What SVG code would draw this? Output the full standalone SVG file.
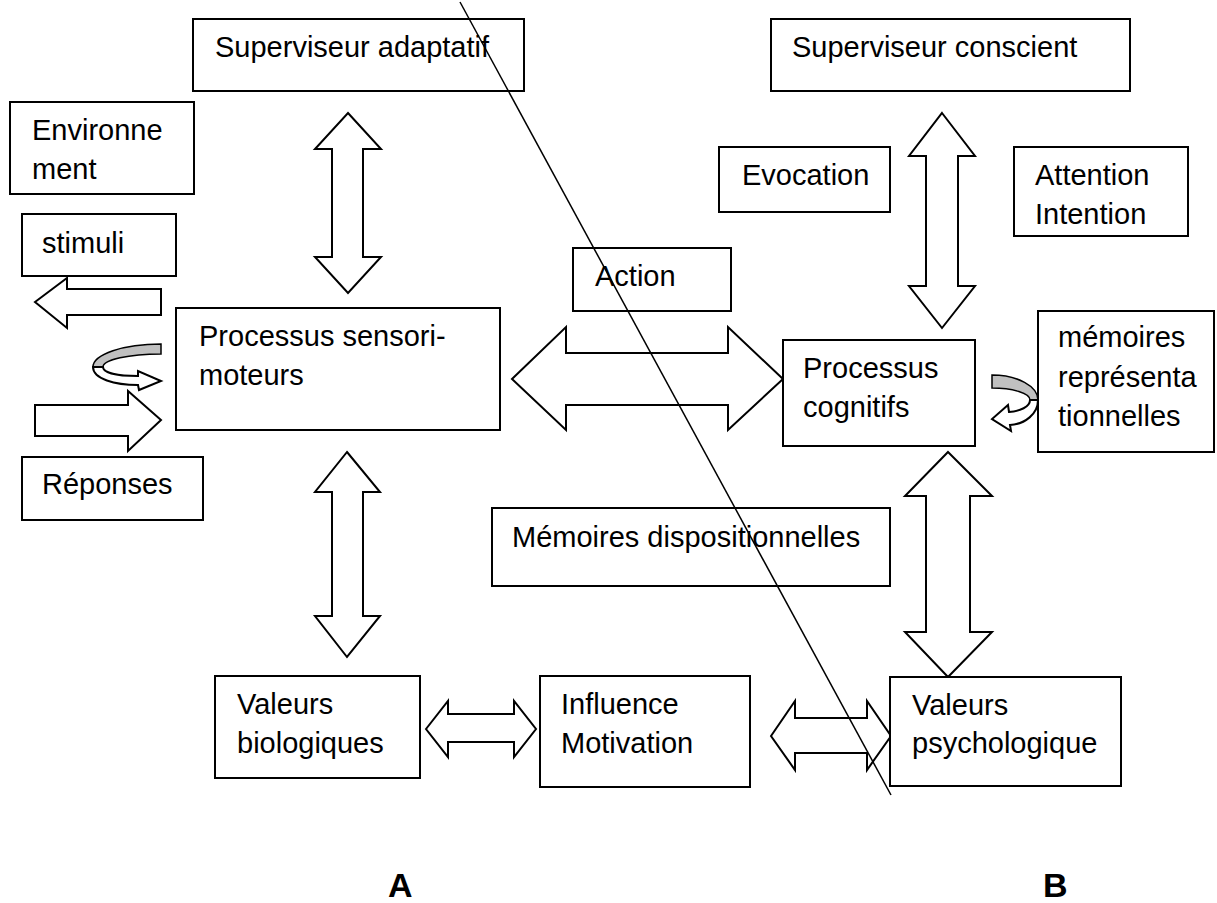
<svg xmlns="http://www.w3.org/2000/svg" width="1217" height="903" viewBox="0 0 1217 903">
<style>
.box{fill:#fff;stroke:#000;stroke-width:2}
.t{font-family:"Liberation Sans",Arial,sans-serif;font-size:29px;fill:#000}
.arr{fill:#fff;stroke:#000;stroke-width:2;stroke-linejoin:miter}
.gray{fill:#c0c0c0;stroke:#000;stroke-width:1.5}
.lbl{font-family:"Liberation Sans",Arial,sans-serif;font-size:34px;font-weight:bold;fill:#000}
</style>
<rect width="1217" height="903" fill="#fff"/>
<g id="connectors">
<polygon class="arr" points="348,113 381,149 363,149 363,257 381,257 348,293 315,257 332,257 332,149 315,149"/>
<polygon class="arr" points="347,452 380,492 363,492 363,616 380,616 347,657 315,616 332,616 332,492 315,492"/>
<polygon class="arr" points="942,113 975,156 958,156 958,286 975,286 942,328 909,286 926,286 926,156 909,156"/>
<polygon class="arr" points="948,452 992,496 970,496 970,632 992,632 948,677 905,632 926,632 926,496 905,496"/>
<polygon class="arr" points="512,379 566,327 566,353 728,353 728,327 783,379 728,430 728,405 566,405 566,430"/>
<polygon class="arr" points="426,729 448,701 448,714 514,714 514,701 536,729 514,757 514,742 448,742 448,757"/>
<polygon class="arr" points="771,736 795,701 795,718 867,718 867,701 891,736 867,770 867,753 795,753 795,770"/>
<polygon class="arr" points="35,302 67,278 67,289 161,289 161,315 67,315 67,328"/>
<polygon class="arr" points="35,405 128,405 128,391 161,420 128,451 128,436 35,436"/>
<path class="gray" d="M161,344 A68,23 0 0 0 93,367 L103,367 A58,13 0 0 1 161,354 Z"/>
<path class="arr" stroke-width="1.5" d="M93,367 C93,379 115,385 138,385 L139,390 L161,381 L138,371 L138,376 C118,376 103,373 103,367 Z"/>
<path class="gray" d="M992,375 A46,25 0 0 1 1038,400 L1030,400 A38,12 0 0 0 992,388 Z"/>
<path class="arr" stroke-width="1.5" d="M1038,400 C1038,414 1025,424 1010,425 L1011,431 L992,419 L1008,405 L1009,412 C1020,411 1030,407 1030,400 Z"/>
</g>
<g id="sup-adaptatif"><rect class="box" x="193" y="19" width="331" height="72"/><text class="t" x="215" y="57">Superviseur adaptatif</text></g>
<g id="sup-conscient"><rect class="box" x="771" y="19" width="359" height="72"/><text class="t" x="792" y="57">Superviseur conscient</text></g>
<g id="environnement"><rect class="box" x="10" y="102" width="184" height="92"/><text class="t" x="32" y="140">Environne</text><text class="t" x="32" y="179">ment</text></g>
<g id="evocation"><rect class="box" x="719" y="147" width="171" height="65"/><text class="t" x="742" y="185">Evocation</text></g>
<g id="attention"><rect class="box" x="1014" y="147" width="174" height="89"/><text class="t" x="1035" y="185">Attention</text><text class="t" x="1035" y="224">Intention</text></g>
<g id="stimuli"><rect class="box" x="22" y="214" width="154" height="62"/><text class="t" x="42" y="253">stimuli</text></g>
<g id="action"><rect class="box" x="573" y="248" width="158" height="63"/><text class="t" x="595" y="286">Action</text></g>
<g id="proc-sensori"><rect class="box" x="176" y="308" width="324" height="122"/><text class="t" x="199" y="346">Processus sensori-</text><text class="t" x="199" y="385">moteurs</text></g>
<g id="proc-cognitifs"><rect class="box" x="783" y="340" width="192" height="106"/><text class="t" x="803" y="378">Processus</text><text class="t" x="803" y="417">cognitifs</text></g>
<g id="memoires-rep"><rect class="box" x="1038" y="311" width="176" height="141"/><text class="t" x="1058" y="347">mémoires</text><text class="t" x="1058" y="387">représenta</text><text class="t" x="1058" y="426">tionnelles</text></g>
<g id="reponses"><rect class="box" x="22" y="457" width="181" height="63"/><text class="t" x="42" y="494">Réponses</text></g>
<g id="memoires-disp"><rect class="box" x="492" y="508" width="398" height="78"/><text class="t" x="512" y="547">Mémoires dispositionnelles</text></g>
<g id="valeurs-bio"><rect class="box" x="215" y="676" width="205" height="102"/><text class="t" x="237" y="714">Valeurs</text><text class="t" x="237" y="753">biologiques</text></g>
<g id="influence"><rect class="box" x="540" y="676" width="210" height="111"/><text class="t" x="561" y="714">Influence</text><text class="t" x="561" y="753">Motivation</text></g>
<g id="valeurs-psy"><rect class="box" x="890" y="677" width="231" height="109"/><text class="t" x="912" y="715">Valeurs</text><text class="t" x="912" y="753">psychologique</text></g>
<line x1="460" y1="2" x2="891" y2="795" stroke="#000" stroke-width="1.5"/>
<text class="lbl" x="388" y="897">A</text>
<text class="lbl" x="1043" y="897">B</text>
</svg>
